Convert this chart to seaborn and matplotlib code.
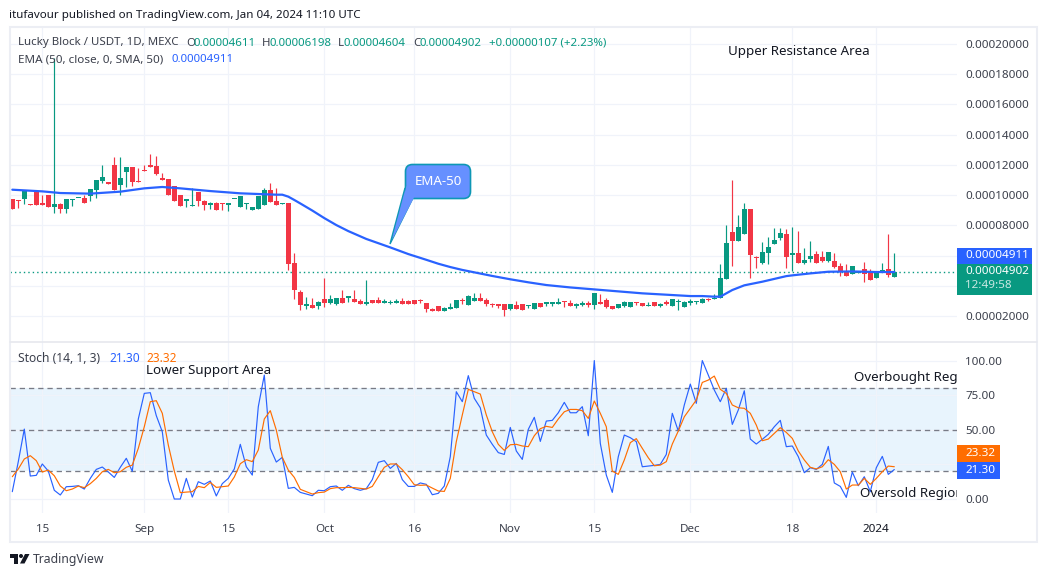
import numpy as np
import pandas as pd
import matplotlib
matplotlib.use('Agg')
import matplotlib.pyplot as plt
from matplotlib.patches import Rectangle, Polygon, Circle, FancyBboxPatch
import seaborn as sns

# Giá, đơn vị 0.00001 USDT (Aug 10 2023 -> Jan 04 2024, mỗi ngày một nến)
opens = [9.74, 9.65, 9.74, 9.40, 10.25, 9.42, 10.0, 9.2, 9.41, 9.08, 9.68, 9.78, 9.81, 9.94, 10.34, 10.93, 10.81, 11.99, 10.67, 11.53,
         11.86, 10.93, 11.65, 11.99, 11.93, 11.07, 11.07, 10.6, 10.0, 9.61, 9.25, 10.2, 9.61, 9.35, 9.48, 9.47, 9.35, 9.72, 9.2, 9.39,
         9.0, 9.08, 9.35, 10.34, 9.61, 9.43, 9.48, 5.51, 3.59, 2.69, 2.73, 2.66, 3.13, 2.86, 2.79, 3.19, 3.22, 3.13, 3.0, 2.79,
         3.06, 3.06, 2.86, 2.88, 2.86, 3.0, 3.0, 3.06, 2.99, 2.86, 2.46, 2.66, 2.33, 2.46, 2.53, 3.0, 2.73, 3.0, 3.19, 3.06,
         2.73, 2.77, 2.79, 2.46, 2.73, 2.79, 2.67, 2.46, 2.86, 2.82, 2.82, 2.79, 2.96, 2.86, 2.69, 2.76, 2.86, 2.73, 2.86, 3.06,
         2.66, 2.53, 2.66, 2.6, 2.91, 2.86, 2.67, 2.93, 2.69, 2.86, 2.66, 2.9, 2.6, 2.86, 2.9, 2.86, 3.1, 3.13, 3.19, 4.45,
         7.56, 6.96, 7.42, 9.08, 5.86, 5.5, 6.17, 6.76, 7.16, 7.42, 6.03, 6.17, 5.5, 5.77, 6.1, 5.9, 5.64, 5.64, 5.31, 4.91,
         4.78, 4.87, 5.11, 4.91, 4.51, 4.91, 5.11, 4.611]
highs = [9.74, 9.65, 10.3, 9.40, 10.25, 10.0, 10.0, 19.07, 9.5, 9.74, 9.72, 9.82, 10.03, 10.4, 11.0, 11.99, 10.81, 12.52, 12.52, 11.86,
         11.86, 11.8, 11.99, 12.72, 12.59, 11.46, 11.07, 10.6, 10.0, 9.74, 10.47, 10.2, 9.68, 9.55, 9.55, 9.47, 9.48, 9.76, 9.94, 9.5,
         9.2, 9.94, 10.47, 10.8, 10.47, 9.47, 9.48, 6.17, 3.72, 3.26, 3.19, 3.0, 4.51, 3.39, 3.19, 3.72, 3.26, 3.72, 3.13, 4.38,
         3.06, 3.26, 3.13, 3.06, 3.13, 3.19, 3.06, 3.06, 3.10, 2.86, 2.53, 2.66, 2.6, 2.86, 3.06, 3.19, 3.39, 3.52, 3.52, 3.19,
         2.86, 2.77, 2.79, 2.79, 3.0, 2.79, 2.71, 2.86, 2.86, 2.86, 2.95, 3.19, 2.96, 3.06, 2.86, 2.97, 3.0, 3.52, 3.46, 3.19,
         2.66, 2.79, 3.0, 2.93, 2.91, 2.86, 2.93, 2.93, 2.86, 3.06, 3.13, 3.13, 2.99, 3.12, 3.0, 3.2, 3.2, 3.45, 5.44, 8.02,
         11.0, 8.68, 9.48, 9.08, 5.95, 6.9, 7.23, 7.82, 7.82, 7.76, 7.89, 7.62, 6.5, 6.96, 6.3, 6.3, 6.23, 6.17, 5.5, 5.44,
         5.31, 4.98, 5.57, 5.11, 4.98, 5.5, 7.42, 6.198]
lows = [9.08, 9.17, 9.41, 9.36, 9.35, 9.38, 9.2, 8.84, 8.84, 8.84, 9.3, 9.78, 9.48, 9.63, 9.81, 10.8, 10.77, 10.34, 10.0, 10.54,
        10.6, 10.89, 11.61, 11.86, 11.33, 11.03, 10.0, 9.61, 9.28, 9.2, 9.25, 9.28, 9.01, 9.08, 9.0, 9.0, 8.95, 9.72, 9.2, 9.08,
        9.0, 9.08, 9.35, 9.55, 9.35, 9.43, 5.04, 3.13, 2.40, 2.46, 2.53, 2.46, 2.60, 2.79, 2.73, 2.86, 2.93, 2.93, 2.79, 2.73,
        2.86, 2.86, 2.86, 2.79, 2.86, 2.79, 2.79, 2.79, 2.84, 2.27, 2.33, 2.33, 2.33, 2.46, 2.53, 2.79, 2.73, 3.0, 3.0, 2.66,
        2.6, 2.53, 2.0, 2.4, 2.46, 2.4, 2.53, 2.46, 2.6, 2.66, 2.66, 2.79, 2.6, 2.66, 2.53, 2.64, 2.6, 2.46, 2.82, 2.53,
        2.46, 2.53, 2.6, 2.6, 2.73, 2.66, 2.67, 2.66, 2.6, 2.73, 2.66, 2.4, 2.6, 2.73, 2.79, 2.86, 2.99, 3.13, 3.19, 4.45,
        5.31, 6.96, 7.42, 4.51, 5.17, 5.44, 5.44, 6.76, 7.03, 5.17, 4.98, 5.5, 5.44, 5.57, 5.5, 5.57, 5.57, 5.17, 4.64, 4.65,
        4.78, 4.87, 4.25, 4.38, 4.51, 4.91, 4.58, 4.604]
closes = [9.08, 9.61, 10.3, 9.36, 9.35, 9.38, 9.2, 9.41, 9.08, 9.74, 9.72, 9.82, 9.48, 10.4, 11.0, 11.2, 10.77, 10.34, 11.13, 11.86,
          10.87, 10.89, 11.61, 11.86, 11.4, 11.03, 10.0, 9.61, 9.28, 9.74, 9.29, 9.61, 9.35, 9.48, 9.0, 9.43, 9.48, 9.76, 9.94, 9.43,
          9.2, 9.94, 10.34, 9.55, 9.35, 9.47, 5.44, 3.72, 2.73, 2.73, 2.53, 2.93, 2.86, 3.13, 3.19, 2.86, 3.26, 2.93, 2.79, 2.93,
          2.86, 2.86, 3.0, 2.92, 3.0, 2.79, 2.79, 2.79, 2.97, 2.46, 2.33, 2.33, 2.53, 2.6, 3.06, 2.96, 3.32, 3.19, 3.0, 2.79,
          2.71, 2.68, 2.4, 2.79, 2.46, 2.4, 2.71, 2.86, 2.6, 2.86, 2.86, 2.93, 2.92, 2.66, 2.73, 2.8, 2.73, 3.52, 2.82, 2.6,
          2.46, 2.79, 2.93, 2.93, 2.87, 2.66, 2.71, 2.66, 2.73, 2.82, 3.13, 2.94, 2.93, 3.0, 2.94, 3.12, 3.06, 3.17, 4.51, 6.83,
          6.96, 7.89, 9.08, 6.03, 5.82, 6.23, 6.56, 7.03, 7.49, 5.9, 6.17, 5.5, 5.7, 5.97, 5.5, 5.64, 6.23, 5.24, 4.91, 4.65,
          5.31, 4.98, 4.78, 4.38, 4.98, 5.04, 4.71, 4.902]

# Đường EMA-50 đọc tại một số nến
ema_days = [0, 5, 8, 13, 18, 22, 25, 28, 33, 38, 44, 45, 46, 47, 48, 50, 52, 54, 56, 59, 61, 63, 66, 69, 71, 73, 75, 77, 80, 83, 86, 89, 93, 97, 105, 113,
            115, 117, 118, 119, 120, 122, 125, 129, 130, 133, 136, 140, 144, 147]
ema_vals = [10.36, 10.25, 10.14, 10.1, 10.23, 10.45, 10.54, 10.45, 10.27, 10.12, 10.03, 10.03, 9.9, 9.68, 9.45, 8.98, 8.48, 8.02, 7.62, 7.1,
            6.82, 6.54, 6.1, 5.72, 5.46, 5.24, 5.05, 4.89, 4.65, 4.43, 4.23, 4.05, 3.89, 3.76, 3.5, 3.32,
            3.32, 3.28, 3.28, 3.5, 3.72, 4.03, 4.27, 4.64, 4.69, 4.82, 4.93, 4.95, 4.91, 4.911]

# Stochastic %K, %D
stoch_k = [5.3, 27, 50.5, 16.6, 17.1, 25.3, 20.2, 6.3, 2.9, 8.9, 9.1, 9.6, 7.2, 14.9, 21.4, 23.1, 19.5, 15.6, 22.9, 29.4,
           20, 57.8, 76.3, 76.8, 60.2, 48.6, 13.7, 0, 0, 14.9, 1.4, 12.5, 10.6, 13, 2.2, 11.1, 14.9, 21.7, 39.5, 23.3,
           17.3, 66.7, 89.5, 36.6, 26.7, 30.1, 7.7, 8.4, 4.8, 3.6, 2.4, 6.3, 6, 8.9, 9.4, 6.3, 9.9, 7.5, 6.3, 7.5,
           14, 26.5, 27.7, 22.1, 25.7, 14, 9.1, 9.1, 11.6, 10.6, 3.1, 4.1, 9.4, 30.6, 77.5, 70.3, 89.1, 72.7, 65.9, 46.2,
           39.5, 33.5, 32.2, 51.7, 34.7, 28.6, 50.3, 59, 41.6, 56.3, 56.8, 62.3, 69.8, 62.3, 62.3, 66.7, 45.7, 100, 40.2, 17.3,
           4.8, 30.6, 46.2, 44.3, 41.4, 23.3, 23.8, 24.3, 25, 32.2, 61.9, 49.1, 67.9, 83, 69.1, 100, 89.5, 78.7, 70.3, 79.9,
           53.9, 64.3, 78.2, 43.3, 39.7, 43.1, 46.7, 52.2, 56.8, 37.8, 38.3, 30.6, 19, 22.6, 21.4, 25, 38, 11.6, 9.1, 1.2,
           19.5, 9.6, 16.1, 5.3, 22.6, 30.8, 17.8, 21.30]
stoch_d = [16.1, 21.7, 28.9, 31.3, 27.7, 19.5, 20.9, 16.8, 9.4, 6, 7.2, 9.4, 8.2, 11.1, 14.9, 19.7, 21.4, 19, 19.7, 22.9,
           24.5, 36.6, 52.2, 70.3, 71, 61.9, 39, 20.2, 4.6, 5, 5.3, 9.1, 8.2, 12, 8.4, 8.9, 9.4, 15.9, 25.5, 28.4,
           27, 35.4, 57.8, 63.8, 49.8, 30.1, 20.9, 15.6, 7, 5.3, 3.6, 4.6, 5, 7.5, 8.2, 8.2, 8.4, 8.2, 7.7, 7.2,
           9.1, 16.1, 22.9, 25.3, 25.3, 21.2, 16.1, 10.3, 9.9, 10.1, 7.9, 5.8, 5.5, 14.9, 41.4, 60.7, 79.2, 77.5, 75.8, 60.7,
           48.6, 39.5, 35.1, 39.2, 39.5, 38.3, 37.8, 45.7, 50.8, 52.5, 51.7, 57.8, 63, 64.7, 64.7, 63.8, 58.2, 70.8, 61.9, 52.2,
           20.2, 17.8, 28.2, 40.7, 43.6, 36.6, 29.8, 24, 24.5, 27, 39.7, 49.1, 59.4, 65.5, 71.5, 84.2, 85.9, 88.8, 79.2, 76.3,
           67.9, 65.9, 65.5, 61.9, 53.4, 42.1, 43.3, 47.4, 51.5, 48.1, 43.8, 34.7, 28.2, 22.9, 21.7, 23.3, 28.4, 25, 19.7, 7.2,
           10.1, 10.1, 14.9, 10.6, 14.9, 19.7, 23.8, 23.32]

time_ticks = [5, 22, 36, 52, 67, 83, 97, 113, 130, 144]
time_labels = ['15', 'Sep', '15', 'Oct', '16', 'Nov', '15', 'Dec', '18', '2024']
price_grid = [2, 4, 6, 8, 10, 12, 14, 16, 18, 20]
price_shown = [2, 8, 10, 12, 14, 16, 18, 20]
stoch_grid = [0, 25, 50, 75, 100]
stoch_shown = [0, 50, 75, 100]

UP = '#089981'
DOWN = '#f23645'
BLUE = '#2962ff'
ORANGE = '#ff6d00'
GRID = '#f0f3fa'
TEXT = '#131722'
FONT = ['Noto Sans', 'DejaVu Sans']

W, H = 1047, 577

sns.set_theme(style='white')
plt.rcParams['font.family'] = FONT
plt.rcParams['axes.unicode_minus'] = False


def px_axes(fig, left, top, right, bottom):
    # Tạo axes theo toạ độ pixel của ảnh
    return fig.add_axes([left / W, 1 - bottom / H, (right - left) / W, (bottom - top) / H])


fig = plt.figure(figsize=(W / 100, H / 100), dpi=100, facecolor='white')
ax_price = px_axes(fig, 10, 27, 957, 342)
ax_stoch = px_axes(fig, 10, 342, 957, 513)
overlay = fig.add_axes([0, 0, 1, 1], zorder=10)
overlay.set_xlim(0, W)
overlay.set_ylim(H, 0)
overlay.axis('off')

day_lim = (-0.383, 157.45)
s = 1e-5

candles = pd.DataFrame({'open': opens, 'high': highs, 'low': lows, 'close': closes})
candles['day'] = candles.index
candles['up'] = candles['close'] >= candles['open']
colors = candles['up'].map({True: UP, False: DOWN})

# Nến: bấc rồi thân, thân quá mỏng vẫn giữ tối thiểu 1px
ax_price.vlines(candles['day'], candles['low'] * s, candles['high'] * s, colors=colors, linewidth=0.85, zorder=3)
body_low = candles[['open', 'close']].min(axis=1)
body_h = (candles['open'] - candles['close']).abs().clip(lower=0.075)
ax_price.bar(candles['day'], body_h * s, bottom=body_low * s, width=0.82, color=colors, linewidth=0, zorder=4)

ax_price.axhline(closes[-1] * s, color=UP, linestyle=(0, (1, 2.2)), linewidth=1.0, zorder=2)
sns.lineplot(x=ema_days, y=np.array(ema_vals) * s, color=BLUE, linewidth=1.6, ax=ax_price, zorder=5, estimator=None)

ax_price.set_xlim(*day_lim)
ax_price.set_ylim(0.279 * s, 21.13 * s)
ax_price.set_yticks([v * s for v in price_grid])
ax_price.set_yticklabels([f'{v * s:.8f}' if v in price_shown else '' for v in price_grid])

# Panel Stochastic
days = np.arange(len(stoch_k))
ax_stoch.axhspan(20, 80, color='#e8f4fd', linewidth=0, zorder=0)
for level in [80, 50, 20]:
    ax_stoch.axhline(level, color='#787b86', linestyle=(0, (4, 3)), linewidth=0.95, zorder=2)
sns.lineplot(x=days, y=stoch_k, color=BLUE, linewidth=0.85, ax=ax_stoch, zorder=4, estimator=None)
sns.lineplot(x=days, y=stoch_d, color=ORANGE, linewidth=0.85, ax=ax_stoch, zorder=5, estimator=None)
ax_stoch.set_xlim(*day_lim)
ax_stoch.set_ylim(-10.1, 113.4)
ax_stoch.set_yticks(stoch_grid)
ax_stoch.set_yticklabels([f'{v:.2f}' if v in stoch_shown else '' for v in stoch_grid])

for ax in (ax_price, ax_stoch):
    for side in ax.spines.values():
        side.set_visible(False)
    ax.patch.set_alpha(0)
    ax.set_xlabel('')
    ax.set_ylabel('')
    ax.yaxis.tick_right()
    ax.tick_params(axis='y', length=0, pad=6, labelsize=8.4, labelcolor='#3c404c')
    ax.set_xticks(time_ticks)
    ax.grid(True, color=GRID, linewidth=0.85, zorder=1)
    ax.set_axisbelow(True)

ax_price.tick_params(axis='x', length=0, labelbottom=False)
ax_stoch.set_xticklabels(time_labels)
ax_stoch.tick_params(axis='x', length=0, pad=8, labelsize=8.4, labelcolor='#3c404c')
ax_stoch.get_xticklabels()[-1].set_fontweight('bold')
ax_stoch.get_xticklabels()[-1].set_color(TEXT)

# Khung ngoài và đường chia panel
overlay.add_patch(Rectangle((9.5, 27), 1027.5, 515, fill=False, edgecolor='#eceef4', linewidth=1.5))
overlay.plot([10, 1037], [342, 342], color='#e6e8ee', linewidth=1.2)


def label(x, y, text, color=TEXT, size=8.25, **kw):
    # va center của matplotlib cao hơn khoảng 1px so với ảnh gốc
    overlay.text(x, y + 1, text, color=color, fontsize=size, va='center', ha=kw.pop('ha', 'left'), **kw)


label(9, 14.5, 'itufavour published on TradingView.com, Jan 04, 2024 11:10 UTC', size=8.33)

label(18, 42, 'Lucky Block / USDT, 1D, MEXC', color='#3c404c')
for x, head, val in [(186, 'O', '0.00004611'), (262, 'H', '0.00006198'), (338, 'L', '0.00004604'), (413, 'C', '0.00004902')]:
    label(x, 42, head, color='#3c404c')
    label(x + {'O': 8, 'H': 7, 'L': 6, 'C': 6}[head], 42, val, color=UP)
label(489, 42, '+0.00000107 (+2.23%)', color=UP)
label(18, 59, 'EMA (50, close, 0, SMA, 50)', color='#3c404c', size=8.4)
label(172, 59, '0.00004911', color=BLUE)

label(18, 358, 'Stoch (14, 1, 3)', color='#3c404c', size=8.7)
label(109, 358, '21.30', color=BLUE, size=8.6)
label(146, 358, '23.32', color=ORANGE, size=8.6)

label(728, 50.5, 'Upper Resistance Area', size=9.6)
label(146, 369.5, 'Lower Support Area', size=9.6)
for x, y, text in [(854, 378, 'Overbought Region'), (860, 493, 'Oversold Region')]:
    ax_stoch.text(x, y, text, color=TEXT, fontsize=9.6, va='center', transform=overlay.transData, clip_on=True, zorder=6)

# Callout EMA-50
overlay.add_patch(Polygon([(405, 188), (413, 198), (390, 244)], closed=True, facecolor='#6690ff', edgecolor='#0e97b5', linewidth=1.0))
overlay.add_patch(FancyBboxPatch((410, 169), 56, 25, boxstyle='round,pad=4.5,rounding_size=7', facecolor='#6690ff', edgecolor='#0e97b5', linewidth=1.2))
overlay.add_patch(Polygon([(406.5, 186), (414, 197.5), (392, 240)], closed=True, facecolor='#6690ff', edgecolor='none'))
label(438, 180.5, 'EMA-50', color='white', size=9.6, ha='center')

# Nhãn giá bên phải
overlay.add_patch(Rectangle((957, 247.5), 75, 16, facecolor=BLUE, edgecolor='none'))
overlay.add_patch(Rectangle((957, 263.5), 75, 31.5, facecolor=UP, edgecolor='none'))
overlay.add_patch(Rectangle((957, 445), 43, 17, facecolor=ORANGE, edgecolor='none'))
overlay.add_patch(Rectangle((957, 462), 43, 16.7, facecolor=BLUE, edgecolor='none'))
label(965, 254.5, '0.00004911', color='white', size=8.4, fontweight='medium')
label(965, 271, '0.00004902', color='white', size=8.4, fontweight='medium')
label(965, 285, '12:49:58', color='#c8e8e2', size=8.4)
label(965, 452.5, '23.32', color='white', size=8.4, fontweight='medium')
label(965, 469.5, '21.30', color='white', size=8.4, fontweight='medium')

# Logo TradingView
overlay.add_patch(Polygon([(10, 554), (18, 554), (18, 563.5), (14, 563.5), (14, 558), (10, 558)], closed=True, facecolor=TEXT, edgecolor='none'))
overlay.add_patch(Circle((21, 556), 2, facecolor=TEXT, edgecolor='none'))
overlay.add_patch(Polygon([(25, 554), (29.5, 554), (24.5, 563.5), (20, 563.5)], closed=True, facecolor=TEXT, edgecolor='none'))
label(33, 558.5, 'TradingView', color='#3c404c', size=8.8)

fig.savefig('out.png', dpi=100, facecolor='white')
